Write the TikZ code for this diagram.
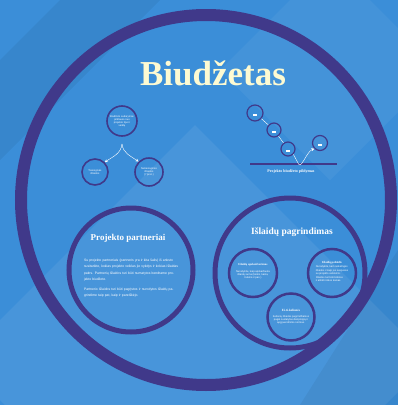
\documentclass[tikz,border=0pt]{standalone}
\usepackage{fontspec}
\setmainfont{Liberation Serif}
\setsansfont{Liberation Sans}
\usetikzlibrary{arrows.meta,positioning}

\definecolor{bgblue}{HTML}{3B8ED8}
\definecolor{ringblue}{HTML}{40398A}
\definecolor{cream}{HTML}{FDFAD2}
\newcommand{\tinyfont}{\fontsize{2.6}{3.1}\selectfont\sffamily}

\begin{document}
\begin{tikzpicture}[x=1pt,y=-1pt,
  ring/.style={circle,draw=ringblue,line width=#1,inner sep=0pt},
  ring/.default=1.6pt,
  tinytxt/.style={text=white,font=\tinyfont,align=center},
  head/.style={text=white,font=\bfseries\fontsize{9}{10}\selectfont},
  arr/.style={white,thin,-{Stealth[length=3pt,width=3pt]}}]
  % background
  \fill[bgblue] (0,0) rectangle (398,405);
  \useasboundingbox (0,0) rectangle (398,405);
  \fill[white,opacity=0.07] (195,125) -- (430,360) -- (195,595) -- (-40,360) -- cycle;
  \fill[white,opacity=0.05] (330,-40) -- (440,70) -- (330,180) -- (220,70) -- cycle;
  \fill[black,opacity=0.05] (0,60) -- (110,-50) -- (160,0) -- (0,160) -- cycle;
  \fill[black,opacity=0.05] (398,250) -- (300,405) -- (398,405) -- cycle;
  % big ring
  \node[ring=12pt,minimum size=370pt] (big) at (206,200) {};
  \node[text=cream,font=\bfseries\fontsize{35}{38}\selectfont] (title) at (213,73) {Biudžetas};

  % left tree
  \node[ring,minimum size=30pt] (c1) at (122,121) {};
  \node[tinytxt] at (c1) {Biudžeto sudarymas\\priklauso nuo\\projekto tipo ir\\veiklų};
  \node[ring,minimum size=26pt] (c2) at (95,172) {};
  \node[tinytxt] at (c2) {Tiesioginės\\išlaidos};
  \node[ring,minimum size=28pt] (c3) at (149,172) {};
  \node[tinytxt] at (c3) {Netiesioginės\\išlaidos\\(7 proc.)};
  \draw[arr] ([yshift=-7]c1.south) to[out=-95,in=35] (c2.north east);
  \draw[arr] ([yshift=-7]c1.south) to[out=-85,in=145] (c3.north west);

  % budget filling steps
  \foreach \n/\x/\y/\s in {s1/255/113/16,s2/274/130/14,s3/288/149/14,s4/320/143/15} {
    \node[ring=1.2pt,minimum size=\s pt] (\n) at (\x,\y) {};
    \fill[white] ([shift={(-2,0.5)}]\n.center) rectangle ++(4,2.6);
    \node[tinytxt,font=\fontsize{1.8}{2}\selectfont\sffamily] at ([yshift=3]\n.center) {~~~~~};
  }
  \coordinate (v) at (298,163);
  \draw[ringblue,line width=1.3pt] (250,164) coordinate (l1) -- (337,164) coordinate (l2);
  \draw[white,thin] (s1) -- (s2);
  \draw[white,thin] (s2) -- (s3);
  \draw[white,thin] (s3.south east) -- (v);
  \draw[arr] (v) to[out=-70,in=200] (s4.south west);
  \node[text=white,font=\bfseries\fontsize{4}{5}\selectfont] (lbl) at (291,172) {Projekto biudžeto pildymas};

  % partners
  \node[ring=5pt,minimum size=124pt] (pp) at (131,270) {};
  \node[head] (pph) at (128,238) {Projekto partneriai};
  \node[text=white,font=\fontsize{3.4}{6.4}\selectfont\sffamily,text width=96pt,align=left] (ppt) at (132,278)
    {Su projekto partneriais (partneris yra ir kita šalis) iš anksto susitarkite, kokias projekto veiklas jie vykdys ir kokias išlaidas patirs. Partnerių išlaidos turi būti numatytos bendrame projekto biudžete.\par\vspace{3.2pt}
     Partnerio išlaidos turi būti pagrįstos ir nurodytos išlaidų pagrindime taip pat, kaip ir pareiškėjo.};

  % cost justification
  \node[ring=5pt,minimum size=150pt] (ip) at (290,273) {};
  \node[head,font=\bfseries\fontsize{9.5}{11}\selectfont] (iph) at (292,232) {Išlaidų pagrindimas};
  \node[ring=2.5pt,minimum size=48pt] (a) at (253,273) {};
  \node[ring=2.5pt,minimum size=48pt] (b) at (332,273) {};
  \node[ring=2.5pt,minimum size=47pt] (c) at (291,317) {};
  \node[tinytxt,font=\bfseries\fontsize{3}{3.6}\selectfont] at ([yshift=8]a.center) {Išlaidų apskaičiavimas};
  \node[tinytxt] at ([yshift=-2]a.center) {Nurodykite, kaip apskaičiuota\\išlaidų suma (kiekis, kaina,\\trukmė ir pan.)};
  \node[tinytxt,font=\bfseries\fontsize{3}{3.6}\selectfont] at ([yshift=10]b.center) {Išlaidų pobūdis};
  \node[tinytxt,align=left] at ([yshift=-1]b.center) {Nurodykite, kam reikalingos\\išlaidos ir kaip jos susijusios\\su projekto veiklomis.\\[1.5pt]Išlaidos turi būti būtinos\\ir atitikti rinkos kainas.};
  \node[tinytxt,font=\bfseries\fontsize{3.2}{3.8}\selectfont] at ([yshift=7]c.center) {Ei-ti-kelionės};
  \node[tinytxt] at ([yshift=-3]c.center) {Kelionių išlaidos pagrindžiamos\\pagal nustatytas dienpinigių ir\\apgyvendinimo normas.};
\end{tikzpicture}
\end{document}
